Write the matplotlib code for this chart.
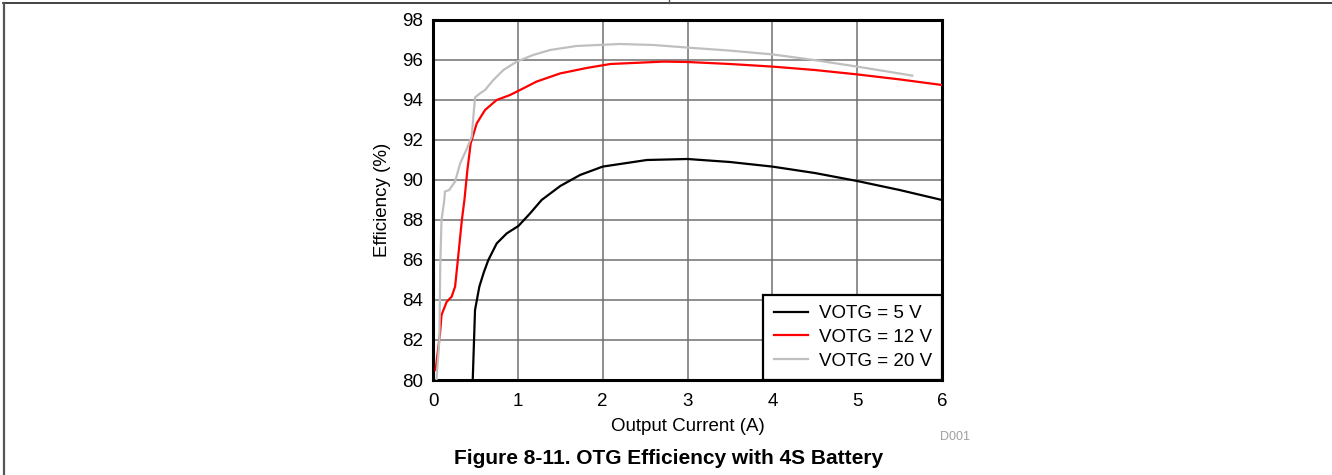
import matplotlib.pyplot as plt
from matplotlib.lines import Line2D

plt.rcParams["font.family"] = ["Liberation Sans", "DejaVu Sans"]

# VOTG = 5 V
x_5v = [0.468, 0.495, 0.546, 0.60, 0.652, 0.751, 0.869, 1.006, 1.144, 1.28, 1.5,
        1.733, 2.0, 2.52, 3.0, 3.5, 4.0, 4.5, 5.0, 5.5, 6.0]
y_5v = [80.0, 83.5, 84.67, 85.4, 86.0, 86.83, 87.33, 87.7, 88.33, 89.0, 89.7,
        90.25, 90.67, 91.0, 91.05, 90.9, 90.67, 90.35, 89.95, 89.5, 89.0]

# VOTG = 12 V
x_12v = [0.03, 0.083, 0.10, 0.16, 0.22, 0.26, 0.29, 0.34, 0.37, 0.405, 0.444, 0.515,
         0.613, 0.75, 0.908, 1.026, 1.22, 1.5, 1.81, 2.09, 2.72, 3.0, 3.5, 4.0,
         4.5, 5.0, 5.5, 6.0]
y_12v = [80.5, 82.35, 83.25, 83.9, 84.17, 84.67, 85.9, 88.0, 89.0, 90.5, 91.83, 92.83,
         93.5, 94.0, 94.25, 94.5, 94.92, 95.33, 95.6, 95.8, 95.92, 95.9, 95.8, 95.67,
         95.5, 95.28, 95.03, 94.75]

# VOTG = 20 V
x_20v = [0.04, 0.075, 0.085, 0.10, 0.133, 0.14, 0.19, 0.26, 0.32, 0.40, 0.456, 0.495,
         0.554, 0.613, 0.711, 0.83, 0.987, 1.18, 1.38, 1.69, 2.2, 2.6, 3.0, 3.5,
         4.0, 4.49, 5.0, 5.65]
y_20v = [80.0, 82.0, 85.67, 88.0, 89.0, 89.42, 89.5, 89.92, 90.83, 91.58, 92.17, 94.13,
         94.33, 94.5, 95.0, 95.5, 95.92, 96.25, 96.5, 96.7, 96.8, 96.75, 96.62, 96.47,
         96.28, 96.0, 95.67, 95.22]

labels = ["VOTG = 5 V", "VOTG = 12 V", "VOTG = 20 V"]
colors = ["#000000", "#ff0000", "#bfbfbf"]

fig = plt.figure(figsize=(13.32, 4.75), dpi=100)
ax = fig.add_axes([0.3251, 0.2, 0.3821, 0.7579])

for xs, ys, lab, c in zip([x_5v, x_12v, x_20v], [y_5v, y_12v, y_20v], labels, colors):
    ax.plot(xs, ys, color=c, lw=1.6, label=lab, zorder=3)

ax.set_xlim(0, 6)
ax.set_ylim(80, 98)
ax.set_xticks(range(0, 7))
ax.set_yticks(range(80, 99, 2))
ax.tick_params(length=0, labelsize=13.5, pad=7)
ax.tick_params(axis="x", pad=9)
ax.grid(True, color="#707070", lw=1.1)
ax.set_axisbelow(True)
for s in ax.spines.values():
    s.set_linewidth(2.2)
ax.set_xlabel("Output Current (A)", fontsize=13.5, labelpad=6)
ax.set_ylabel("Efficiency (%)", fontsize=13.5, labelpad=8)

leg = ax.legend(loc="lower right", fontsize=13.5, borderaxespad=0, fancybox=False,
                framealpha=1, edgecolor="black", handlelength=1.85, handletextpad=0.55,
                labelspacing=0.35, borderpad=0.55)
leg.get_frame().set_linewidth(1.6)
leg.set_zorder(5)

fig.text(0.717, 1 - 437 / 475, "D001", fontsize=9, color="#a0a0a0", ha="center", va="center")
fig.text(0.502, 1 - 458 / 475, "Figure 8-11. OTG Efficiency with 4S Battery",
         fontsize=15, fontweight="bold", ha="center", va="center")

# page frame lines
fig.add_artist(Line2D([3 / 1332, 1], [1 - 2.5 / 475, 1 - 2.5 / 475], color="#222222", lw=1.2))
fig.add_artist(Line2D([3.5 / 1332, 3.5 / 1332], [0, 1 - 2.5 / 475], color="#555555", lw=1.6))
fig.add_artist(Line2D([669 / 1332, 669 / 1332], [1 - 2.5 / 475, 1], color="#555555", lw=1.0))

fig.savefig("out.png", dpi=100)
